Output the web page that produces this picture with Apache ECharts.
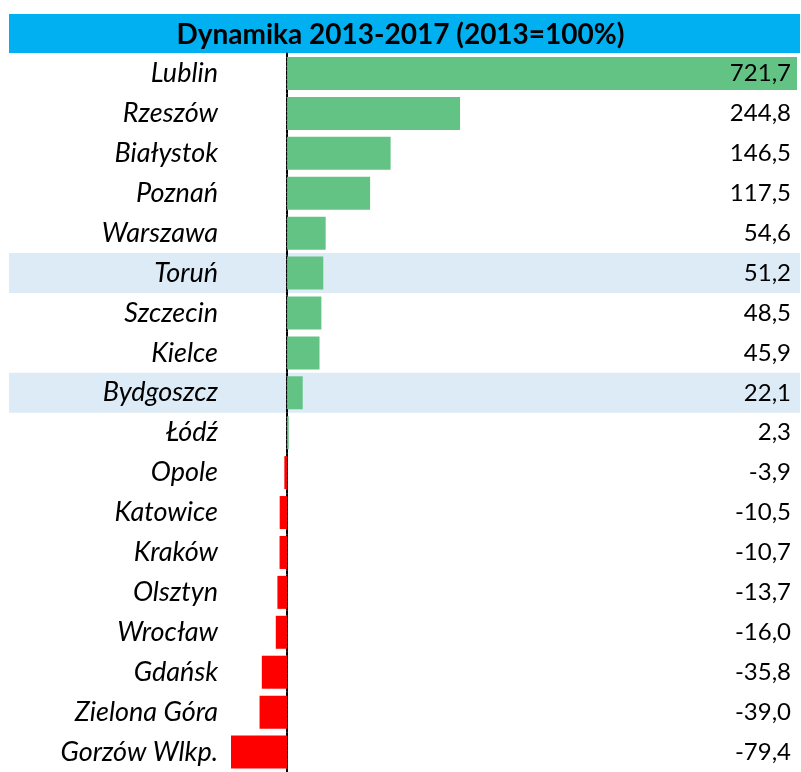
<!DOCTYPE html>
<html>
<head>
<meta charset="utf-8">
<script src="https://cdn.jsdelivr.net/npm/echarts@6/dist/echarts.min.js"></script>
<style>
  html, body { margin: 0; padding: 0; background: #fff; }
  #chart { width: 801px; height: 772px; }
</style>
</head>
<body>
<div id="chart"></div>
<script>
// data, top to bottom as in the table
const cities = ['Lublin', 'Rzeszów', 'Białystok', 'Poznań', 'Warszawa', 'Toruń', 'Szczecin', 'Kielce',
  'Bydgoszcz', 'Łódź', 'Opole', 'Katowice', 'Kraków', 'Olsztyn', 'Wrocław', 'Gdańsk', 'Zielona Góra', 'Gorzów Wlkp.']
const dynamics = [721.7, 244.8, 146.5, 117.5, 54.6, 51.2, 48.5, 45.9, 22.1, 2.3, -3.9, -10.5, -10.7, -13.7, -16.0, -35.8, -39.0, -79.4]
const highlighted = ['Toruń', 'Bydgoszcz']
const titleText = 'Dynamika 2013-2017 (2013=100%)'

const fmt = v => v.toFixed(1).replace('.', ',')

const chart = echarts.init(document.getElementById('chart'))

// category axis goes top-down, so reverse
const cats = cities.slice().reverse()
const vals = dynamics.slice().reverse()
const labelsRight = vals.map(fmt)
const bandData = cats.map(c => highlighted.includes(c) ? 1 : null)

const gridTop = 53.5
const rowsH = 720

chart.setOption({
  animation: false,
  backgroundColor: '#fff',
  title: {
    text: titleText,
    left: 'center',
    top: 16,
    textStyle: { fontFamily: 'Lato', fontWeight: 'bold', fontSize: 28, color: '#000' },
    z: 10
  },
  graphic: [{
    type: 'rect',
    shape: { x: 9, y: 14, width: 791, height: 39 },
    style: { fill: '#00B0F0' },
    z: -1
  }],
  grid: [
    { left: 231, right: 4, top: gridTop, height: rowsH },
    { left: 9, right: 1, top: gridTop, height: rowsH }
  ],
  xAxis: [
    { type: 'value', gridIndex: 0, min: 'dataMin', max: 'dataMax', show: false },
    { type: 'value', gridIndex: 1, min: 0, max: 1, show: false }
  ],
  yAxis: [
    {
      type: 'category', gridIndex: 0, data: cats,
      axisTick: { show: false },
      axisLine: { show: true, onZero: true, lineStyle: { color: '#000', width: 2, type: [3, 1.5] } },
      axisLabel: { margin: 13, fontFamily: 'Lato', fontStyle: 'italic', fontSize: 27, color: '#000' },
      z: 1
    },
    {
      type: 'category', gridIndex: 0, data: labelsRight, position: 'right',
      axisTick: { show: false }, axisLine: { show: false },
      axisLabel: { inside: true, margin: 6, fontFamily: 'Lato', fontSize: 24, color: '#000' },
      z: 5
    },
    { type: 'category', gridIndex: 1, data: cats, show: false }
  ],
  series: [
    {
      type: 'bar', xAxisIndex: 1, yAxisIndex: 2, data: bandData,
      barWidth: '100%', itemStyle: { color: '#DDEBF7' }, z: 0, silent: true
    },
    {
      type: 'bar', xAxisIndex: 0, yAxisIndex: 0, barWidth: 33,
      data: vals.map(v => ({ value: v, itemStyle: { color: v >= 0 ? '#63C384' : '#FF0000' } })),
      z: 2
    }
  ]
})
</script>
</body>
</html>
